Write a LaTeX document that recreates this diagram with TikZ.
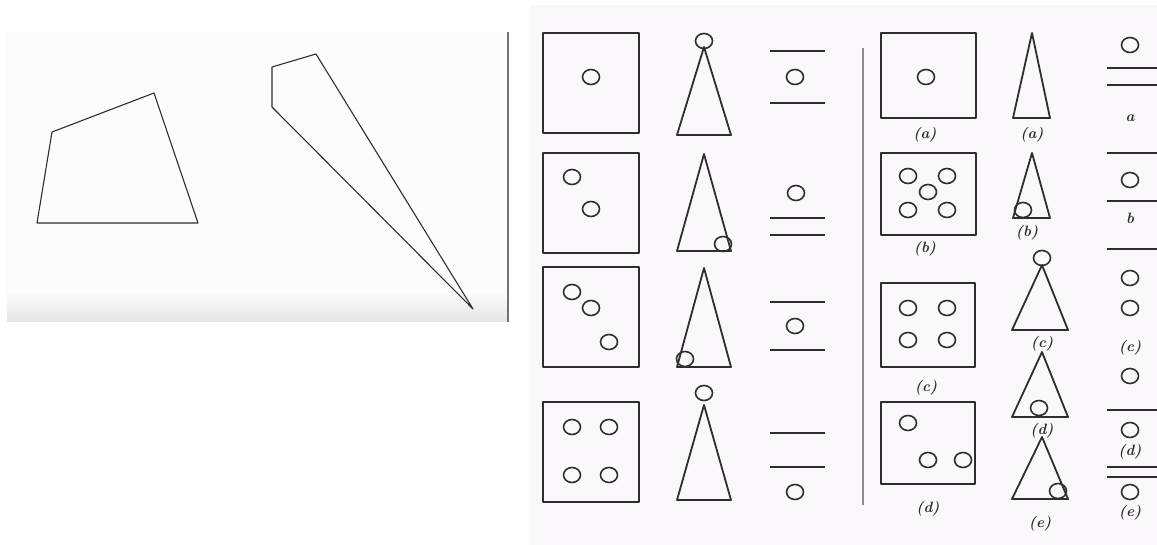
\documentclass[tikz,border=0pt]{standalone}
\usepackage{tikz}
\usetikzlibrary{positioning}
\definecolor{InkGray}{HTML}{2E2E2E}
\definecolor{PaperTint}{HTML}{FAF8FA}
\definecolor{SmudgeGray}{HTML}{E4E4E6}

\begin{document}
\begin{tikzpicture}[x=1pt, y=-1pt,
    ink/.style={draw=InkGray, line width=1.8pt, line join=round},
    fine/.style={draw=InkGray, line width=1.1pt, line join=round},
    spot/.style={draw=InkGray, line width=1.6pt, x radius=8.5pt, y radius=7.5pt},
    rule/.style={draw=InkGray, line width=1.8pt},
    tag/.style={font=\fontsize{15}{17}\selectfont\bfseries\itshape, text=InkGray, inner sep=1pt}
]
\useasboundingbox (0,0) rectangle (1157,545);

% scanned paper
\fill[PaperTint] (530,5) rectangle (1157,545);
\fill[black!1] (7,32) rectangle (508,322);
\shade[top color=black!1, bottom color=SmudgeGray] (7,292) rectangle (508,322);
\draw[draw=black!55, line width=1.2pt] (508,32) -- (508,322);

% left panel figures
\draw[fine] (52,132) -- (154,93) -- (198,223) -- (37,223) -- cycle;
\draw[fine] (272,67) -- (316,54) -- (473,309) -- (272,107) -- cycle;

% column of squares
\foreach \ty in {33,153,267,402}
    \draw[ink] (543,\ty) rectangle ++(96,100);
\foreach \cx/\cy in {591/77, 572/177, 591/209, 572/292, 591/308, 609/342,
                     572/427, 609/427, 572/475, 609/475}
    \draw[spot] (\cx,\cy) circle;

% column of triangles
\foreach \ty/\by in {47/135, 154/251, 268/367, 405/500}
    \draw[ink] (704,\ty) -- (731,\by) -- (677,\by) -- cycle;
\foreach \cx/\cy in {704/41, 723/244, 685/359, 704/393}
    \draw[spot] (\cx,\cy) circle;

% column of bars
\foreach \ya/\yb in {51/103, 218/235, 302/350, 433/467} {
    \draw[rule] (770,\ya) -- (825,\ya);
    \draw[rule] (770,\yb) -- (825,\yb);
}
\foreach \cx/\cy in {795/77, 796/193, 795/326, 795/492}
    \draw[spot] (\cx,\cy) circle;

\draw[draw=black!45, line width=1.3pt] (863,48) -- (863,505);

% labelled squares
\draw[ink] (881,33) rectangle (976,118);
\draw[ink] (881,153) rectangle (976,235);
\draw[ink] (881,283) rectangle (975,367);
\draw[ink] (881,402) rectangle (975,484);
\foreach \cx/\cy in {926/77, 928/192, 908/176, 947/176, 908/210, 947/210,
                     908/308, 947/308, 908/340, 947/340, 908/423, 928/460, 963/460}
    \draw[spot] (\cx,\cy) circle;
\node[tag] (sqa) at (925,135) {(a)};
\node[tag] (sqb) at (925,249) {(b)};
\node[tag] (sqc) at (926,388) {(c)};
\node[tag] (sqd) at (928,509) {(d)};

% labelled triangles
\draw[ink] (1032,33) -- (1050,118) -- (1013,118) -- cycle;
\draw[ink] (1032,153) -- (1050,218) -- (1013,218) -- cycle;
\draw[ink] (1042,265) -- (1068,330) -- (1012,330) -- cycle;
\draw[ink] (1042,352) -- (1068,417) -- (1012,417) -- cycle;
\draw[ink] (1042,437) -- (1068,499) -- (1012,499) -- cycle;
\foreach \cx/\cy in {1023/210, 1042/258, 1039/408, 1058/491}
    \draw[spot] (\cx,\cy) circle;
\node[tag] (tra) at (1032,135) {(a)};
\node[tag] (trb) at (1027,233) {(b)};
\node[tag] (trc) at (1042,344) {(c)};
\node[tag] (trd) at (1042,431) {(d)};
\node[tag] (tre) at (1040,524) {(e)};

% labelled bars
\foreach \ly in {68,85,153,201,249,410,467,477}
    \draw[rule] (1107,\ly) -- (1157,\ly);
\foreach \cy in {45,180,278,308,376,430,492}
    \draw[spot] (1130,\cy) circle;
\node[tag] (bra) at (1130,118) {a};
\node[tag] (brb) at (1130,218) {b};
\node[tag] (brc) at (1130,348) {(c)};
\node[tag] (brd) at (1130,452) {(d)};
\node[tag] (bre) at (1130,513) {(e)};
\end{tikzpicture}
\end{document}
